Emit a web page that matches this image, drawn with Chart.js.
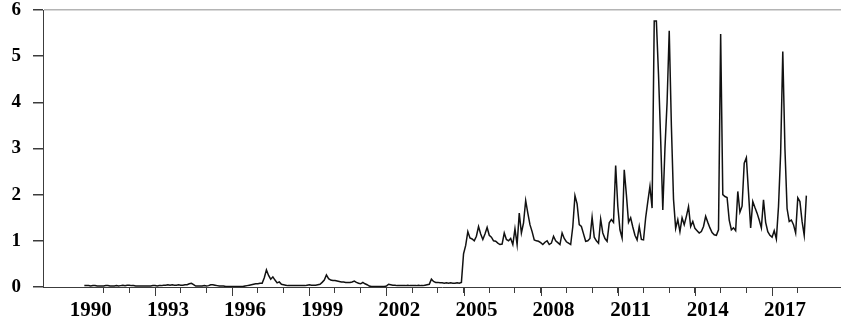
<!DOCTYPE html>
<html>
<head>
<meta charset="utf-8">
<script src="https://cdn.jsdelivr.net/npm/chart.js@4"></script>
<style>
  html, body { margin: 0; padding: 0; background: #ffffff; }
  #wrap { width: 841px; height: 324px; }
</style>
</head>
<body>
<div id="wrap"><canvas id="chart" width="841" height="324"></canvas></div>
<script>
// Monthly series, first observation April 1990
const firstYear = 1990;
const firstMonth = 4;

const values1990s = [
  // 1990 (Apr-Dec)
  0.03, 0.03, 0.03, 0.02, 0.03, 0.03, 0.02, 0.02, 0.02,
  // 1991
  0.02, 0.03, 0.03, 0.02, 0.02, 0.02, 0.03, 0.02, 0.03, 0.04, 0.03, 0.04,
  // 1992
  0.04, 0.03, 0.03, 0.02, 0.02, 0.02, 0.02, 0.02, 0.02, 0.02, 0.02, 0.03,
  // 1993
  0.03, 0.02, 0.03, 0.03, 0.04, 0.04, 0.05, 0.04, 0.05, 0.04, 0.04, 0.05,
  // 1994
  0.04, 0.04, 0.05, 0.05, 0.07, 0.08, 0.05, 0.02, 0.02, 0.02, 0.02, 0.03,
  // 1995
  0.02, 0.03, 0.05, 0.05, 0.04, 0.03, 0.02, 0.02, 0.02, 0.01, 0.01, 0.01,
  // 1996
  0.01, 0.01, 0.01, 0.01, 0.01, 0.01, 0.02, 0.03, 0.04, 0.05, 0.06, 0.07,
  // 1997
  0.07, 0.08, 0.08, 0.20, 0.37, 0.25, 0.17, 0.22, 0.15, 0.09, 0.11, 0.06,
  // 1998
  0.05, 0.04, 0.03, 0.03, 0.03, 0.03, 0.03, 0.03, 0.03, 0.03, 0.03, 0.04,
  // 1999
  0.05, 0.04, 0.04, 0.04, 0.05, 0.06, 0.10, 0.15, 0.26, 0.18, 0.15, 0.14
];

const values2000s = [
  // 2000
  0.14, 0.13, 0.12, 0.11, 0.11, 0.10, 0.10, 0.10, 0.11, 0.13, 0.10, 0.08,
  // 2001
  0.07, 0.10, 0.07, 0.05, 0.02, 0.01, 0.01, 0.01, 0.01, 0.01, 0.01, 0.01,
  // 2002
  0.02, 0.06, 0.05, 0.04, 0.04, 0.03, 0.03, 0.03, 0.03, 0.03, 0.04, 0.03,
  // 2003
  0.03, 0.03, 0.03, 0.04, 0.03, 0.03, 0.04, 0.05, 0.06, 0.17, 0.12, 0.10,
  // 2004
  0.10, 0.09, 0.09, 0.08, 0.09, 0.08, 0.09, 0.08, 0.08, 0.09, 0.08, 0.10,
  // 2005
  0.72, 0.90, 1.20, 1.06, 1.04, 1.00, 1.10, 1.31, 1.15, 1.03, 1.15, 1.29,
  // 2006
  1.12, 1.08, 1.00, 0.99, 0.95, 0.92, 0.93, 1.17, 1.03, 1.00, 1.05, 0.92,
  // 2007
  1.26, 0.92, 1.60, 1.17, 1.39, 1.87, 1.60, 1.35, 1.20, 1.02, 1.00, 0.99,
  // 2008
  0.96, 0.92, 0.97, 1.00, 0.92, 0.95, 1.10, 1.00, 0.96, 0.92, 1.17, 1.05,
  // 2009
  0.98, 0.95, 0.92, 1.31, 1.98, 1.80, 1.35, 1.31, 1.15, 0.99, 1.00, 1.05
];

const values2010s = [
  // 2010
  1.51, 1.08, 1.00, 0.95, 1.47, 1.17, 1.05, 0.99, 1.39, 1.46, 1.40, 2.63,
  // 2011
  1.75, 1.24, 1.06, 2.54, 2.00, 1.40, 1.50, 1.30, 1.12, 1.02, 1.31, 1.03,
  // 2012
  1.02, 1.50, 1.85, 2.18, 1.71, 5.76, 5.76, 4.60, 3.20, 1.67, 3.00, 4.00,
  // 2013
  5.55, 3.50, 1.90, 1.27, 1.46, 1.20, 1.50, 1.35, 1.53, 1.74, 1.31, 1.42,
  // 2014
  1.27, 1.22, 1.17, 1.20, 1.31, 1.53, 1.40, 1.28, 1.18, 1.13, 1.12, 1.24,
  // 2015
  5.48, 2.00, 1.96, 1.94, 1.45, 1.24, 1.28, 1.22, 2.07, 1.62, 1.75, 2.68,
  // 2016
  2.80, 2.05, 1.28, 1.85, 1.72, 1.60, 1.45, 1.28, 1.89, 1.40, 1.20, 1.12,
  // 2017
  1.08, 1.22, 1.04, 1.74, 2.90, 5.10, 3.00, 1.70, 1.42, 1.45, 1.35, 1.17,
  // 2018 (Jan-May)
  1.93, 1.85, 1.42, 1.12, 1.98
];

// Years labelled on the time axis
const labelYears = [1990, 1993, 1996, 1999, 2002, 2005, 2008, 2011, 2014, 2017];
// Value axis ticks
const yTicks = [0, 1, 2, 3, 4, 5, 6];

const series = [...values1990s, ...values2000s, ...values2010s];
const points = series.map((v, i) => ({ x: firstYear + (firstMonth - 1 + i) / 12, y: v }));

const lastX = points[points.length - 1].x;
// Year boundaries (January) covered by the data
const yearStarts = [];
for (let yr = firstYear + 1; yr <= Math.floor(lastX); yr++) yearStarts.push(yr);
const labelPositions = labelYears.map(y => y + 0.5);

const AXIS = '#3c3c3c';
const FONT = "'Liberation Serif', 'Times New Roman', serif";

// Longer tick marks at the start of each labelled year
const longTicks = {
  id: 'longTicks',
  afterDraw(chart) {
    const xs = chart.scales.x;
    const ctx = chart.ctx;
    const y0 = chart.chartArea.bottom;
    ctx.save();
    ctx.strokeStyle = AXIS;
    ctx.lineWidth = 1;
    labelYears.forEach(yr => {
      if (!yearStarts.includes(yr)) return;
      const px = Math.round(xs.getPixelForValue(yr)) + 0.5;
      ctx.beginPath();
      ctx.moveTo(px, y0);
      ctx.lineTo(px, y0 + 9);
      ctx.stroke();
    });
    ctx.restore();
  }
};

new Chart(document.getElementById('chart'), {
  type: 'line',
  data: {
    datasets: [{
      data: points,
      borderColor: '#111111',
      borderWidth: 1.5,
      pointRadius: 0,
      tension: 0,
      fill: false
    }]
  },
  options: {
    responsive: false,
    animation: false,
    devicePixelRatio: 1,
    layout: { padding: { top: 10, right: 0, left: 0, bottom: 0 } },
    plugins: { legend: { display: false }, tooltip: { enabled: false } },
    scales: {
      x: {
        type: 'linear',
        min: 1988.643,
        max: 2019.681,
        afterBuildTicks(scale) {
          scale.ticks = [...yearStarts, ...labelPositions]
            .sort((a, b) => a - b)
            .map(v => ({ value: v }));
        },
        afterFit(scale) {
          scale.height = 37;
          scale.paddingLeft = 0;
          scale.paddingRight = 0;
        },
        border: { display: true, color: AXIS, width: 1 },
        grid: {
          drawOnChartArea: false,
          tickLength: 6,
          tickColor: ctx => (ctx.tick && Number.isInteger(ctx.tick.value)) ? AXIS : 'rgba(0,0,0,0)'
        },
        ticks: {
          autoSkip: false,
          maxRotation: 0,
          minRotation: 0,
          padding: 5,
          color: '#000',
          font: { family: FONT, size: 21, weight: 'bold' },
          callback: v => Number.isInteger(v) ? '' : String(Math.floor(v))
        }
      },
      y: {
        min: 0,
        max: 6,
        afterBuildTicks(scale) { scale.ticks = yTicks.map(v => ({ value: v })); },
        afterFit(scale) {
          scale.width = 43;
          scale.paddingTop = 0;
          scale.paddingBottom = 0;
        },
        border: { display: true, color: AXIS, width: 1 },
        grid: {
          drawOnChartArea: true,
          color: ctx => (ctx.tick && ctx.tick.value === 6) ? '#b4b4b4' : 'rgba(0,0,0,0)',
          lineWidth: 1.5,
          tickLength: 10,
          tickColor: AXIS
        },
        ticks: {
          padding: 12,
          color: '#000',
          font: { family: FONT, size: 19, weight: 'bold' }
        }
      }
    }
  },
  plugins: [longTicks]
});
</script>
</body>
</html>
